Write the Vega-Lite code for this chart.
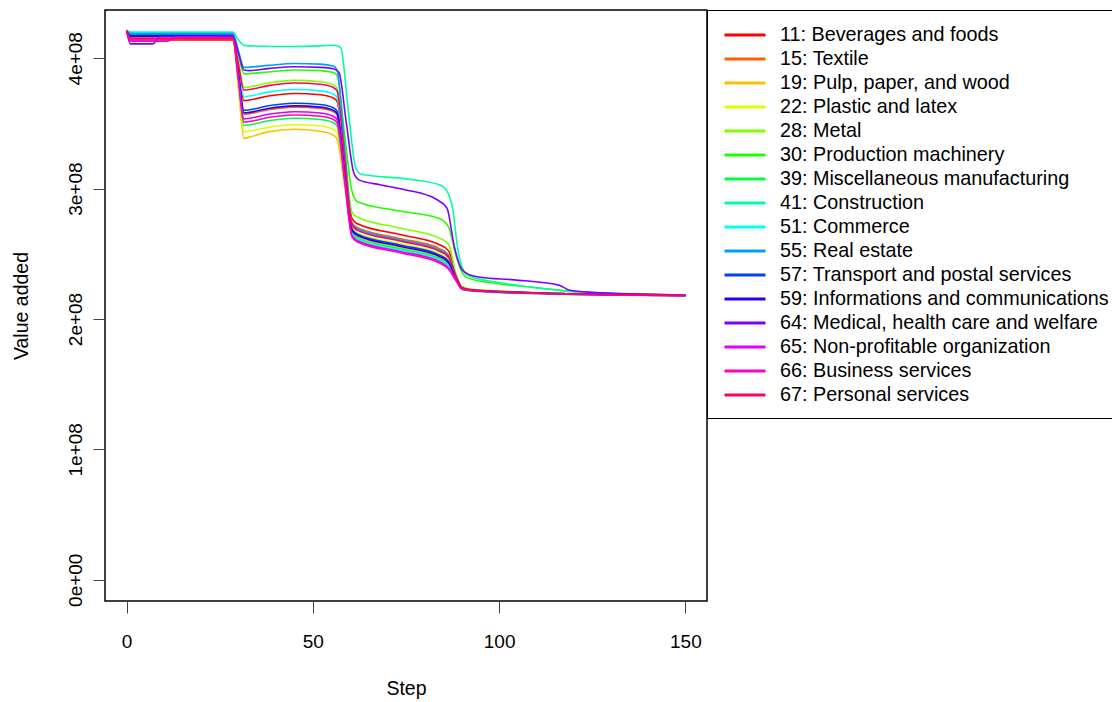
{
"$schema": "https://vega.github.io/schema/vega-lite/v6.json",
"width": 602, "height": 591,
"autosize": {"type": "none"},
"padding": {"left": 105, "top": 10, "right": 405, "bottom": 101},
"background": "white",
"config": {"view": {"stroke": "black", "strokeWidth": 1.5}, "font": "Liberation Sans"},
"datasets": {"names": [
{"k":"11","name":"11: Beverages and foods"},
{"k":"15","name":"15: Textile"},
{"k":"19","name":"19: Pulp, paper, and wood"},
{"k":"22","name":"22: Plastic and latex"},
{"k":"28","name":"28: Metal"},
{"k":"30","name":"30: Production machinery"},
{"k":"39","name":"39: Miscellaneous manufacturing"},
{"k":"41","name":"41: Construction"},
{"k":"51","name":"51: Commerce"},
{"k":"55","name":"55: Real estate"},
{"k":"57","name":"57: Transport and postal services"},
{"k":"59","name":"59: Informations and communications"},
{"k":"64","name":"64: Medical, health care and welfare"},
{"k":"65","name":"65: Non-profitable organization"},
{"k":"66","name":"66: Business services"},
{"k":"67","name":"67: Personal services"}
]},
"data": {"values": [
{"k":"11","x":0,"y":4.21e8},{"k":"11","x":1,"y":4.14e8},{"k":"11","x":28.5,"y":4.14e8},{"k":"11","x":30,"y":3.91e8},{"k":"11","x":31.5,"y":3.675e8},{"k":"11","x":33,"y":3.68e8},{"k":"11","x":38,"y":3.71e8},{"k":"11","x":45,"y":3.73e8},{"k":"11","x":52,"y":3.72e8},{"k":"11","x":55.5,"y":3.695e8},{"k":"11","x":56.5,"y":3.67e8},{"k":"11","x":58.5,"y":3.22e8},{"k":"11","x":60.5,"y":2.77e8},{"k":"11","x":62,"y":2.73e8},{"k":"11","x":73,"y":2.65e8},{"k":"11","x":84,"y":2.57e8},{"k":"11","x":86.5,"y":2.52e8},{"k":"11","x":88.5,"y":2.32e8},{"k":"11","x":90,"y":2.24e8},{"k":"11","x":92,"y":2.228e8},{"k":"11","x":100,"y":2.212e8},{"k":"11","x":115,"y":2.196e8},{"k":"11","x":150,"y":2.18e8},
{"k":"15","x":0,"y":4.21e8},{"k":"15","x":1,"y":4.15e8},{"k":"15","x":28.5,"y":4.15e8},{"k":"15","x":30,"y":3.86e8},{"k":"15","x":31.5,"y":3.57e8},{"k":"15","x":33,"y":3.575e8},{"k":"15","x":38,"y":3.605e8},{"k":"15","x":45,"y":3.625e8},{"k":"15","x":52,"y":3.615e8},{"k":"15","x":55.5,"y":3.59e8},{"k":"15","x":56.5,"y":3.565e8},{"k":"15","x":58.5,"y":3.15e8},{"k":"15","x":60.5,"y":2.74e8},{"k":"15","x":62,"y":2.70e8},{"k":"15","x":73,"y":2.62e8},{"k":"15","x":84,"y":2.54e8},{"k":"15","x":86.5,"y":2.49e8},{"k":"15","x":88.5,"y":2.32e8},{"k":"15","x":90,"y":2.24e8},{"k":"15","x":92,"y":2.225e8},{"k":"15","x":100,"y":2.21e8},{"k":"15","x":115,"y":2.195e8},{"k":"15","x":150,"y":2.18e8},
{"k":"19","x":0,"y":4.21e8},{"k":"19","x":1,"y":4.16e8},{"k":"19","x":28.5,"y":4.16e8},{"k":"19","x":30,"y":3.78e8},{"k":"19","x":31.5,"y":3.385e8},{"k":"19","x":33,"y":3.395e8},{"k":"19","x":38,"y":3.435e8},{"k":"19","x":45,"y":3.455e8},{"k":"19","x":52,"y":3.44e8},{"k":"19","x":55.5,"y":3.41e8},{"k":"19","x":56.5,"y":3.38e8},{"k":"19","x":58.5,"y":3.025e8},{"k":"19","x":60.5,"y":2.67e8},{"k":"19","x":62,"y":2.63e8},{"k":"19","x":73,"y":2.55e8},{"k":"19","x":84,"y":2.47e8},{"k":"19","x":86.5,"y":2.42e8},{"k":"19","x":88.5,"y":2.31e8},{"k":"19","x":90,"y":2.235e8},{"k":"19","x":92,"y":2.222e8},{"k":"19","x":100,"y":2.208e8},{"k":"19","x":115,"y":2.194e8},{"k":"19","x":150,"y":2.18e8},
{"k":"22","x":0,"y":4.21e8},{"k":"22","x":1,"y":4.165e8},{"k":"22","x":28.5,"y":4.165e8},{"k":"22","x":30,"y":3.80e8},{"k":"22","x":31.5,"y":3.435e8},{"k":"22","x":33,"y":3.44e8},{"k":"22","x":38,"y":3.47e8},{"k":"22","x":45,"y":3.49e8},{"k":"22","x":52,"y":3.48e8},{"k":"22","x":55.5,"y":3.455e8},{"k":"22","x":56.5,"y":3.43e8},{"k":"22","x":58.5,"y":3.065e8},{"k":"22","x":60.5,"y":2.70e8},{"k":"22","x":62,"y":2.66e8},{"k":"22","x":73,"y":2.58e8},{"k":"22","x":84,"y":2.50e8},{"k":"22","x":86.5,"y":2.45e8},{"k":"22","x":88.5,"y":2.32e8},{"k":"22","x":90,"y":2.24e8},{"k":"22","x":92,"y":2.226e8},{"k":"22","x":100,"y":2.21e8},{"k":"22","x":115,"y":2.195e8},{"k":"22","x":150,"y":2.18e8},
{"k":"28","x":0,"y":4.21e8},{"k":"28","x":1,"y":4.18e8},{"k":"28","x":28.5,"y":4.18e8},{"k":"28","x":30,"y":3.98e8},{"k":"28","x":31.5,"y":3.775e8},{"k":"28","x":33,"y":3.78e8},{"k":"28","x":38,"y":3.81e8},{"k":"28","x":45,"y":3.83e8},{"k":"28","x":52,"y":3.82e8},{"k":"28","x":55.5,"y":3.795e8},{"k":"28","x":56.5,"y":3.77e8},{"k":"28","x":58.5,"y":3.295e8},{"k":"28","x":60.5,"y":2.82e8},{"k":"28","x":62,"y":2.78e8},{"k":"28","x":73,"y":2.70e8},{"k":"28","x":84,"y":2.62e8},{"k":"28","x":86.5,"y":2.57e8},{"k":"28","x":88.5,"y":2.34e8},{"k":"28","x":90,"y":2.25e8},{"k":"28","x":92,"y":2.232e8},{"k":"28","x":100,"y":2.215e8},{"k":"28","x":115,"y":2.198e8},{"k":"28","x":150,"y":2.18e8},
{"k":"30","x":0,"y":4.21e8},{"k":"30","x":1,"y":4.185e8},{"k":"30","x":28.5,"y":4.185e8},{"k":"30","x":30,"y":4.03e8},{"k":"30","x":31.5,"y":3.88e8},{"k":"30","x":33,"y":3.882e8},{"k":"30","x":38,"y":3.895e8},{"k":"30","x":45,"y":3.91e8},{"k":"30","x":52,"y":3.905e8},{"k":"30","x":55.5,"y":3.89e8},{"k":"30","x":56.5,"y":3.87e8},{"k":"30","x":58.5,"y":3.42e8},{"k":"30","x":60.5,"y":2.98e8},{"k":"30","x":62,"y":2.90e8},{"k":"30","x":73,"y":2.83e8},{"k":"30","x":84,"y":2.77e8},{"k":"30","x":86.5,"y":2.70e8},{"k":"30","x":88.5,"y":2.48e8},{"k":"30","x":90,"y":2.36e8},{"k":"30","x":92,"y":2.31e8},{"k":"30","x":100,"y":2.27e8},{"k":"30","x":110,"y":2.24e8},{"k":"30","x":120,"y":2.21e8},{"k":"30","x":130,"y":2.195e8},{"k":"30","x":150,"y":2.185e8},
{"k":"39","x":0,"y":4.21e8},{"k":"39","x":1,"y":4.18e8},{"k":"39","x":28.5,"y":4.18e8},{"k":"39","x":30,"y":3.835e8},{"k":"39","x":31.5,"y":3.485e8},{"k":"39","x":33,"y":3.49e8},{"k":"39","x":38,"y":3.52e8},{"k":"39","x":45,"y":3.54e8},{"k":"39","x":52,"y":3.53e8},{"k":"39","x":55.5,"y":3.505e8},{"k":"39","x":56.5,"y":3.48e8},{"k":"39","x":58.5,"y":3.07e8},{"k":"39","x":60.5,"y":2.66e8},{"k":"39","x":62,"y":2.62e8},{"k":"39","x":73,"y":2.54e8},{"k":"39","x":84,"y":2.46e8},{"k":"39","x":86.5,"y":2.41e8},{"k":"39","x":88.5,"y":2.31e8},{"k":"39","x":90,"y":2.235e8},{"k":"39","x":92,"y":2.222e8},{"k":"39","x":100,"y":2.208e8},{"k":"39","x":115,"y":2.194e8},{"k":"39","x":150,"y":2.18e8},
{"k":"41","x":0,"y":4.215e8},{"k":"41","x":1,"y":4.20e8},{"k":"41","x":28.5,"y":4.20e8},{"k":"41","x":30,"y":4.14e8},{"k":"41","x":31.5,"y":4.10e8},{"k":"41","x":33,"y":4.095e8},{"k":"41","x":45,"y":4.09e8},{"k":"41","x":52,"y":4.095e8},{"k":"41","x":56,"y":4.10e8},{"k":"41","x":57.5,"y":4.08e8},{"k":"41","x":59.5,"y":3.60e8},{"k":"41","x":61.5,"y":3.16e8},{"k":"41","x":63,"y":3.11e8},{"k":"41","x":75,"y":3.075e8},{"k":"41","x":84,"y":3.03e8},{"k":"41","x":86,"y":2.98e8},{"k":"41","x":87.5,"y":2.85e8},{"k":"41","x":89,"y":2.52e8},{"k":"41","x":90.5,"y":2.37e8},{"k":"41","x":92,"y":2.33e8},{"k":"41","x":100,"y":2.28e8},{"k":"41","x":110,"y":2.24e8},{"k":"41","x":120,"y":2.21e8},{"k":"41","x":130,"y":2.195e8},{"k":"41","x":150,"y":2.185e8},
{"k":"51","x":0,"y":4.21e8},{"k":"51","x":1,"y":4.19e8},{"k":"51","x":28.5,"y":4.19e8},{"k":"51","x":30,"y":3.95e8},{"k":"51","x":31.5,"y":3.705e8},{"k":"51","x":33,"y":3.71e8},{"k":"51","x":38,"y":3.74e8},{"k":"51","x":45,"y":3.76e8},{"k":"51","x":52,"y":3.75e8},{"k":"51","x":55.5,"y":3.725e8},{"k":"51","x":56.5,"y":3.70e8},{"k":"51","x":58.5,"y":3.175e8},{"k":"51","x":60.5,"y":2.65e8},{"k":"51","x":62,"y":2.61e8},{"k":"51","x":73,"y":2.53e8},{"k":"51","x":84,"y":2.45e8},{"k":"51","x":86.5,"y":2.40e8},{"k":"51","x":88.5,"y":2.30e8},{"k":"51","x":90,"y":2.23e8},{"k":"51","x":92,"y":2.215e8},{"k":"51","x":100,"y":2.202e8},{"k":"51","x":115,"y":2.19e8},{"k":"51","x":150,"y":2.18e8},
{"k":"55","x":0,"y":4.21e8},{"k":"55","x":1,"y":4.19e8},{"k":"55","x":28.5,"y":4.19e8},{"k":"55","x":30,"y":4.06e8},{"k":"55","x":31.5,"y":3.93e8},{"k":"55","x":33,"y":3.932e8},{"k":"55","x":38,"y":3.945e8},{"k":"55","x":45,"y":3.96e8},{"k":"55","x":52,"y":3.955e8},{"k":"55","x":55.5,"y":3.94e8},{"k":"55","x":56.5,"y":3.91e8},{"k":"55","x":58.5,"y":3.32e8},{"k":"55","x":60.5,"y":2.73e8},{"k":"55","x":62,"y":2.69e8},{"k":"55","x":73,"y":2.61e8},{"k":"55","x":84,"y":2.53e8},{"k":"55","x":86.5,"y":2.48e8},{"k":"55","x":88.5,"y":2.32e8},{"k":"55","x":90,"y":2.24e8},{"k":"55","x":92,"y":2.226e8},{"k":"55","x":100,"y":2.21e8},{"k":"55","x":115,"y":2.195e8},{"k":"55","x":150,"y":2.18e8},
{"k":"57","x":0,"y":4.21e8},{"k":"57","x":1,"y":4.175e8},{"k":"57","x":28.5,"y":4.175e8},{"k":"57","x":30,"y":3.89e8},{"k":"57","x":31.5,"y":3.60e8},{"k":"57","x":33,"y":3.605e8},{"k":"57","x":38,"y":3.635e8},{"k":"57","x":45,"y":3.655e8},{"k":"57","x":52,"y":3.645e8},{"k":"57","x":55.5,"y":3.62e8},{"k":"57","x":56.5,"y":3.595e8},{"k":"57","x":58.5,"y":3.14e8},{"k":"57","x":60.5,"y":2.69e8},{"k":"57","x":62,"y":2.65e8},{"k":"57","x":73,"y":2.57e8},{"k":"57","x":84,"y":2.49e8},{"k":"57","x":86.5,"y":2.44e8},{"k":"57","x":88.5,"y":2.32e8},{"k":"57","x":90,"y":2.24e8},{"k":"57","x":92,"y":2.224e8},{"k":"57","x":100,"y":2.209e8},{"k":"57","x":115,"y":2.195e8},{"k":"57","x":150,"y":2.18e8},
{"k":"59","x":0,"y":4.21e8},{"k":"59","x":1,"y":4.17e8},{"k":"59","x":28.5,"y":4.17e8},{"k":"59","x":30,"y":3.88e8},{"k":"59","x":31.5,"y":3.58e8},{"k":"59","x":33,"y":3.585e8},{"k":"59","x":38,"y":3.615e8},{"k":"59","x":45,"y":3.635e8},{"k":"59","x":52,"y":3.625e8},{"k":"59","x":55.5,"y":3.60e8},{"k":"59","x":56.5,"y":3.575e8},{"k":"59","x":58.5,"y":3.13e8},{"k":"59","x":60.5,"y":2.68e8},{"k":"59","x":62,"y":2.64e8},{"k":"59","x":73,"y":2.56e8},{"k":"59","x":84,"y":2.48e8},{"k":"59","x":86.5,"y":2.43e8},{"k":"59","x":88.5,"y":2.31e8},{"k":"59","x":90,"y":2.238e8},{"k":"59","x":92,"y":2.223e8},{"k":"59","x":100,"y":2.209e8},{"k":"59","x":115,"y":2.195e8},{"k":"59","x":150,"y":2.18e8},
{"k":"64","x":0,"y":4.21e8},{"k":"64","x":1,"y":4.11e8},{"k":"64","x":7,"y":4.11e8},{"k":"64","x":9,"y":4.165e8},{"k":"64","x":28.5,"y":4.17e8},{"k":"64","x":30,"y":4.04e8},{"k":"64","x":31.5,"y":3.91e8},{"k":"64","x":33,"y":3.905e8},{"k":"64","x":38,"y":3.92e8},{"k":"64","x":45,"y":3.935e8},{"k":"64","x":52,"y":3.93e8},{"k":"64","x":55.5,"y":3.92e8},{"k":"64","x":57,"y":3.89e8},{"k":"64","x":59,"y":3.50e8},{"k":"64","x":61,"y":3.12e8},{"k":"64","x":62.5,"y":3.065e8},{"k":"64","x":68,"y":3.03e8},{"k":"64","x":75,"y":2.99e8},{"k":"64","x":83,"y":2.92e8},{"k":"64","x":86,"y":2.85e8},{"k":"64","x":88,"y":2.55e8},{"k":"64","x":90,"y":2.38e8},{"k":"64","x":92,"y":2.34e8},{"k":"64","x":95,"y":2.32e8},{"k":"64","x":104,"y":2.30e8},{"k":"64","x":116,"y":2.26e8},{"k":"64","x":119,"y":2.22e8},{"k":"64","x":125,"y":2.205e8},{"k":"64","x":150,"y":2.185e8},
{"k":"65","x":0,"y":4.21e8},{"k":"65","x":1,"y":4.13e8},{"k":"65","x":11,"y":4.13e8},{"k":"65","x":13,"y":4.16e8},{"k":"65","x":28.5,"y":4.16e8},{"k":"65","x":30,"y":3.85e8},{"k":"65","x":31.5,"y":3.535e8},{"k":"65","x":33,"y":3.54e8},{"k":"65","x":38,"y":3.57e8},{"k":"65","x":45,"y":3.59e8},{"k":"65","x":52,"y":3.58e8},{"k":"65","x":55.5,"y":3.555e8},{"k":"65","x":56.5,"y":3.53e8},{"k":"65","x":58.5,"y":3.085e8},{"k":"65","x":60.5,"y":2.64e8},{"k":"65","x":62,"y":2.60e8},{"k":"65","x":73,"y":2.52e8},{"k":"65","x":84,"y":2.44e8},{"k":"65","x":86.5,"y":2.39e8},{"k":"65","x":88.5,"y":2.30e8},{"k":"65","x":90,"y":2.232e8},{"k":"65","x":92,"y":2.22e8},{"k":"65","x":100,"y":2.206e8},{"k":"65","x":115,"y":2.193e8},{"k":"65","x":150,"y":2.18e8},
{"k":"66","x":0,"y":4.21e8},{"k":"66","x":1,"y":4.155e8},{"k":"66","x":28.5,"y":4.155e8},{"k":"66","x":30,"y":3.835e8},{"k":"66","x":31.5,"y":3.51e8},{"k":"66","x":33,"y":3.515e8},{"k":"66","x":38,"y":3.545e8},{"k":"66","x":45,"y":3.565e8},{"k":"66","x":52,"y":3.555e8},{"k":"66","x":55.5,"y":3.53e8},{"k":"66","x":56.5,"y":3.505e8},{"k":"66","x":58.5,"y":3.07e8},{"k":"66","x":60.5,"y":2.63e8},{"k":"66","x":62,"y":2.59e8},{"k":"66","x":73,"y":2.51e8},{"k":"66","x":84,"y":2.43e8},{"k":"66","x":86.5,"y":2.38e8},{"k":"66","x":88.5,"y":2.29e8},{"k":"66","x":90,"y":2.23e8},{"k":"66","x":92,"y":2.218e8},{"k":"66","x":100,"y":2.205e8},{"k":"66","x":115,"y":2.192e8},{"k":"66","x":150,"y":2.18e8},
{"k":"67","x":0,"y":4.21e8},{"k":"67","x":1,"y":4.15e8},{"k":"67","x":28.5,"y":4.15e8},{"k":"67","x":30,"y":3.955e8},{"k":"67","x":31.5,"y":3.755e8},{"k":"67","x":33,"y":3.76e8},{"k":"67","x":38,"y":3.79e8},{"k":"67","x":45,"y":3.81e8},{"k":"67","x":52,"y":3.80e8},{"k":"67","x":55.5,"y":3.775e8},{"k":"67","x":56.5,"y":3.75e8},{"k":"67","x":58.5,"y":3.235e8},{"k":"67","x":60.5,"y":2.72e8},{"k":"67","x":62,"y":2.68e8},{"k":"67","x":73,"y":2.60e8},{"k":"67","x":84,"y":2.52e8},{"k":"67","x":86.5,"y":2.47e8},{"k":"67","x":88.5,"y":2.32e8},{"k":"67","x":90,"y":2.24e8},{"k":"67","x":92,"y":2.225e8},{"k":"67","x":100,"y":2.21e8},{"k":"67","x":115,"y":2.195e8},{"k":"67","x":150,"y":2.18e8}
]},
"transform": [{"lookup": "k", "from": {"data": {"name": "names"}, "key": "k", "fields": ["name"]}}],
"mark": {"type": "line", "interpolate": "monotone", "strokeWidth": 1.6, "clip": true},
"encoding": {
  "x": {"field": "x", "type": "quantitative",
        "scale": {"domain": [-5.8, 155.8], "nice": false, "zero": false},
        "axis": {"values": [0, 50, 100, 150], "domain": false, "grid": false, "tickSize": 12, "tickColor": "#444", "tickWidth": 1,
                 "labelFontSize": 19, "labelColor": "black", "labelPadding": 19, "labelFlush": false, "labelOverlap": false,
                 "title": "Step", "titleFontSize": 19.5, "titleFontWeight": "normal", "titleColor": "black", "titleY": 93, "titleBaseline": "alphabetic"}},
  "y": {"field": "y", "type": "quantitative",
        "scale": {"domain": [-16300000, 437000000], "nice": false, "zero": false},
        "axis": {"values": [0, 100000000, 200000000, 300000000, 400000000],
                 "labelExpr": "datum.value == 0 ? '0e+00' : format(datum.value / 1e8, 'd') + 'e+08'",
                 "labelAngle": -90, "labelAlign": "center", "labelBaseline": "bottom",
                 "domain": false, "grid": false, "tickSize": 12, "tickColor": "#444", "tickWidth": 1,
                 "labelFontSize": 19, "labelColor": "black", "labelPadding": 8, "labelFlush": false, "labelOverlap": false,
                 "title": "Value added", "titleFontSize": 19.5, "titleFontWeight": "normal", "titleColor": "black",
                 "titleX": -78, "titleY": 295.5, "titleAngle": -90, "titleAlign": "center", "titleBaseline": "alphabetic"}},
  "color": {"field": "name", "type": "nominal",
        "scale": {"domain": ["11: Beverages and foods","15: Textile","19: Pulp, paper, and wood","22: Plastic and latex","28: Metal","30: Production machinery","39: Miscellaneous manufacturing","41: Construction","51: Commerce","55: Real estate","57: Transport and postal services","59: Informations and communications","64: Medical, health care and welfare","65: Non-profitable organization","66: Business services","67: Personal services"],
                  "range": ["#FF0000","#FF6000","#FFBF00","#DFFF00","#80FF00","#20FF00","#00FF40","#00FF9F","#00FFFF","#009FFF","#0040FF","#2000FF","#8000FF","#DF00FF","#FF00BF","#FF0060"]},
        "legend": {"title": null, "orient": "none", "legendX": 602, "legendY": 0,
                   "strokeColor": "black", "fillColor": "white", "padding": 13,
                   "symbolType": "M-2,0L2,0", "symbolSize": 420.25, "symbolStrokeWidth": 3, "symbolOffset": 13,
                   "labelFontSize": 19.8, "labelColor": "black", "labelLimit": 1000, "labelOffset": 23, "rowPadding": 2}}
}
}
